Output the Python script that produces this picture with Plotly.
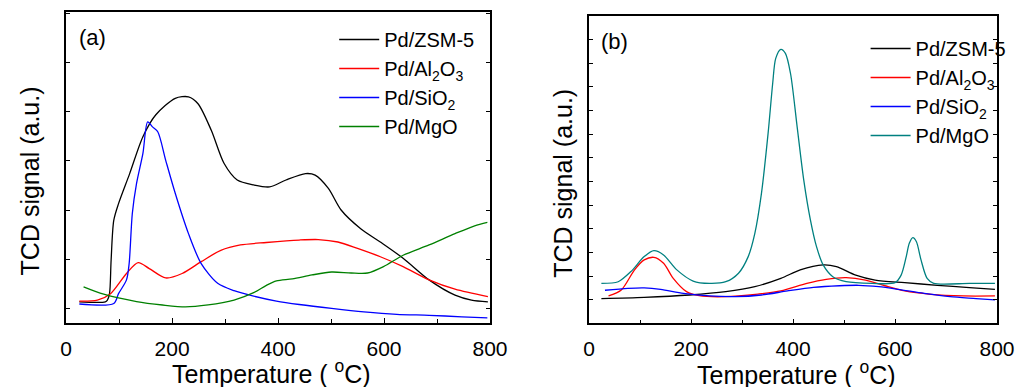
import plotly.graph_objects as go

# ---------------- Panel (a) data ----------------
a_zsm_T = [25, 74, 78, 82, 85, 90, 99, 120, 145, 169, 206, 231, 249, 274, 298, 323, 354, 384, 415, 452, 470, 495, 519, 556, 593, 636, 685, 734, 765, 796]
a_zsm_v = [0.135, 0.135, 0.17, 0.30, 0.98, 1.79, 2.13, 2.74, 3.49, 3.93, 4.27, 4.30, 4.16, 3.62, 2.95, 2.61, 2.51, 2.47, 2.61, 2.74, 2.71, 2.44, 2.00, 1.62, 1.35, 1.02, 0.58, 0.27, 0.17, 0.135]

a_al_T = [25, 59, 84, 114, 136, 157, 188, 219, 255, 292, 329, 378, 440, 476, 513, 550, 593, 636, 685, 734, 796]
a_al_v = [0.15, 0.17, 0.30, 0.71, 0.93, 0.81, 0.62, 0.71, 0.95, 1.18, 1.29, 1.34, 1.39, 1.40, 1.35, 1.22, 1.05, 0.85, 0.58, 0.39, 0.24]

a_si_T = [25, 90, 99, 114, 119, 125, 133, 145, 154, 163, 173, 188, 206, 231, 255, 286, 317, 354, 397, 440, 501, 562, 624, 685, 747, 795]
a_si_v = [0.09, 0.10, 0.30, 0.58, 0.91, 1.93, 2.54, 3.15, 3.79, 3.69, 3.59, 3.01, 2.34, 1.52, 0.91, 0.51, 0.36, 0.25, 0.15, 0.08, 0.00, -0.07, -0.12, -0.14, -0.17, -0.19]

a_mg_T = [33, 71, 133, 182, 225, 268, 317, 354, 378, 397, 427, 464, 501, 538, 569, 599, 636, 685, 734, 771, 795]
a_mg_v = [0.44, 0.29, 0.14, 0.07, 0.03, 0.07, 0.17, 0.32, 0.47, 0.56, 0.60, 0.68, 0.74, 0.72, 0.72, 0.85, 1.08, 1.29, 1.52, 1.68, 1.75]

# ---------------- Panel (b) data ----------------
b_zsm_T = [24, 108, 197, 268, 325, 376, 414, 459, 485, 523, 561, 619, 683, 746, 796]
b_zsm_v = [0.06, 0.11, 0.21, 0.35, 0.56, 0.91, 1.27, 1.48, 1.41, 1.05, 0.84, 0.73, 0.62, 0.52, 0.45]

b_al_T = [38, 63, 89, 108, 127, 146, 165, 191, 216, 268, 331, 376, 427, 465, 504, 542, 580, 619, 670, 734, 796]
b_al_v = [0.17, 0.42, 1.27, 1.69, 1.80, 1.55, 0.91, 0.35, 0.18, 0.14, 0.25, 0.38, 0.70, 0.87, 0.94, 0.84, 0.60, 0.38, 0.24, 0.17, 0.17]

b_si_T = [31, 76, 108, 140, 185, 236, 287, 338, 389, 440, 491, 529, 568, 606, 657, 708, 759, 796]
b_si_v = [0.41, 0.49, 0.51, 0.45, 0.28, 0.17, 0.14, 0.21, 0.38, 0.53, 0.60, 0.62, 0.56, 0.45, 0.28, 0.14, 0.06, 0.00]

b_mg_T = [24, 57, 82, 108, 127, 146, 172, 204, 236, 268, 293, 312, 325, 338, 351, 360, 366, 376, 385, 395, 408, 421, 434, 446, 459, 478, 504, 555, 600, 612, 622, 628, 635, 642, 651, 663, 676, 746, 796]
b_mg_v = [0.70, 0.77, 1.20, 1.83, 2.08, 1.90, 1.27, 0.80, 0.70, 0.77, 1.13, 1.83, 2.81, 4.50, 7.03, 9.14, 10.20, 10.58, 10.41, 9.56, 7.31, 5.06, 3.38, 2.25, 1.48, 0.98, 0.77, 0.70, 0.73, 1.05, 1.83, 2.39, 2.63, 2.46, 1.69, 0.91, 0.70, 0.70, 0.70]

names = ["Pd/ZSM-5", "Pd/Al<sub>2</sub>O<sub>3</sub>", "Pd/SiO<sub>2</sub>", "Pd/MgO"]
colors_a = ["#000000", "#ff0000", "#0000ff", "#008000"]
colors_b = ["#000000", "#ff0000", "#0000ff", "#008080"]

FONT = "Liberation Sans, Arial, sans-serif"
W, H = 1035, 387

fig = go.Figure()

a_series = [(a_zsm_T, a_zsm_v), (a_al_T, a_al_v), (a_si_T, a_si_v), (a_mg_T, a_mg_v)]
b_series = [(b_zsm_T, b_zsm_v), (b_al_T, b_al_v), (b_si_T, b_si_v), (b_mg_T, b_mg_v)]

for (t, v), n, c in zip(a_series, names, colors_a):
    fig.add_trace(go.Scatter(x=t, y=v, name=n, mode="lines",
                             line=dict(color=c, width=1.3, shape="spline", smoothing=0.8),
                             xaxis="x", yaxis="y", legend="legend"))
for (t, v), n, c in zip(b_series, names, colors_b):
    fig.add_trace(go.Scatter(x=t, y=v, name=n, mode="lines",
                             line=dict(color=c, width=1.3, shape="spline", smoothing=0.8),
                             xaxis="x2", yaxis="y2", legend="legend2"))

def px_x(p):
    return p / W

def px_y(p):
    return 1 - p / H

xcommon = dict(range=[0, 800], tickvals=[0, 200, 400, 600, 800], ticks="inside", ticklen=5,
               tickwidth=1.2, tickcolor="black", showline=True, linecolor="black", linewidth=1.5,
               mirror=True, showgrid=False, zeroline=False,
               tickfont=dict(family=FONT, size=21, color="black"), ticklabelstandoff=6,
               minor=dict(ticks="inside", tickvals=[100, 300, 500, 700], ticklen=4, tickcolor="black", tickwidth=1.2))
ycommon = dict(ticks="inside", ticklen=4, tickwidth=1, tickcolor="black", showline=True,
               linecolor="black", linewidth=1.5, mirror="ticks", showgrid=False, zeroline=False,
               showticklabels=False, tick0=0, dtick=1)

fig.update_layout(
    width=W, height=H,
    margin=dict(l=0, r=0, t=0, b=0),
    paper_bgcolor="white", plot_bgcolor="white",
    font=dict(family=FONT, color="black"),
    xaxis=dict(domain=[px_x(61.5), px_x(495.5)], anchor="y", **xcommon),
    yaxis=dict(domain=[px_y(322.7), px_y(11.7)], anchor="x", range=[-0.29, 6.03], **ycommon),
    xaxis2=dict(domain=[px_x(597), px_x(1014.5)], anchor="y2", **xcommon),
    yaxis2=dict(domain=[px_y(323.3), px_y(15.7)], anchor="x2", range=[-0.985, 12.0], **ycommon),
    legend=dict(x=px_x(336), y=px_y(20), xanchor="left", yanchor="top", bgcolor="rgba(0,0,0,0)",
                font=dict(family=FONT, size=20, color="black"), tracegroupgap=0, itemwidth=40),
    legend2=dict(x=px_x(880), y=px_y(29), xanchor="left", yanchor="top", bgcolor="rgba(0,0,0,0)",
                 font=dict(family=FONT, size=20, color="black"), tracegroupgap=0, itemwidth=40),
)

annos = [
    dict(text="(a)", x=px_x(73), y=px_y(38), xanchor="left", yanchor="middle", font=dict(size=22)),
    dict(text="(b)", x=px_x(607), y=px_y(42), xanchor="left", yanchor="middle", font=dict(size=22)),
    dict(text="Temperature ( <sup>o</sup>C)", x=px_x(272), y=px_y(372), xanchor="center", yanchor="middle", font=dict(size=25)),
    dict(text="Temperature ( <sup>o</sup>C)", x=px_x(809), y=px_y(373), xanchor="center", yanchor="middle", font=dict(size=25)),
    dict(text="TCD signal (a.u.)", x=px_x(25), y=px_y(181), xanchor="center", yanchor="middle", textangle=-90, font=dict(size=25)),
    dict(text="TCD signal (a.u.)", x=px_x(570), y=px_y(183), xanchor="center", yanchor="middle", textangle=-90, font=dict(size=25)),
]
for a in annos:
    a.update(xref="paper", yref="paper", showarrow=False)
    a["font"].update(family=FONT, color="black")
    fig.add_annotation(**a)

fig.write_html("out.html", config={"displayModeBar": False},
               post_script="document.body.style.margin='0px';document.body.style.padding='0px';")
